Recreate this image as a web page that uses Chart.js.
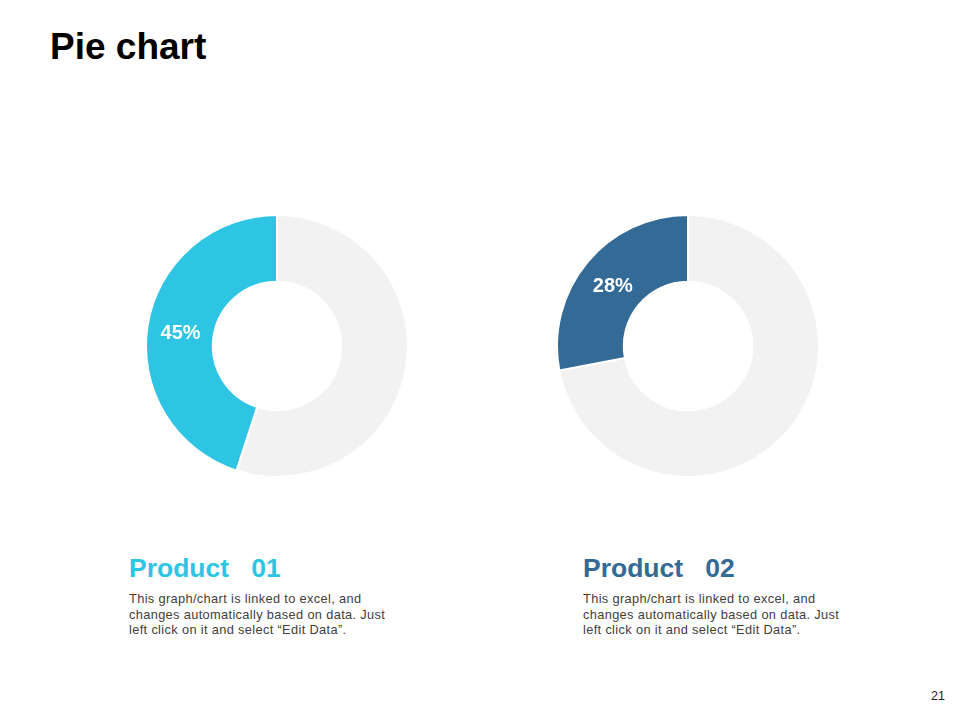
<!DOCTYPE html>
<html>
<head>
<meta charset="utf-8">
<script src="https://cdn.jsdelivr.net/npm/chart.js@4.4.1/dist/chart.umd.min.js"></script>
<style>
  body { margin: 0; background: #fff; font-family: "Liberation Sans", Arial, sans-serif; }
  #page { position: relative; width: 960px; height: 720px; overflow: hidden; }
  h1 { position: absolute; left: 50px; top: 26px; margin: 0; font-size: 37px; font-weight: bold; color: #000; }
  .box { position: absolute; width: 264px; height: 264px; }
  .name { position: absolute; margin: 0; font-size: 26.5px; font-weight: bold; white-space: pre; }
  .desc { position: absolute; margin: 0; font-size: 12.8px; letter-spacing: 0.35px; line-height: 15.5px; color: #404040; white-space: nowrap; }
  #num { position: absolute; left: 931px; top: 689px; font-size: 12.5px; color: #222; }
</style>
</head>
<body>
<div id="page">
  <h1>Pie chart</h1>
  <div class="box" style="left:145px; top:214px;"><canvas id="pie1" width="264" height="264"></canvas></div>
  <div class="box" style="left:556px; top:214px;"><canvas id="pie2" width="264" height="264"></canvas></div>
  <p class="name" id="name1" style="left:129px; top:553px;"></p>
  <p class="desc" id="desc1" style="left:129px; top:591px;"></p>
  <p class="name" id="name2" style="left:583px; top:553px;"></p>
  <p class="desc" id="desc2" style="left:583px; top:591px;"></p>
  <div id="num">21</div>
</div>
<script>
// data for the two product donuts (share shown, rest is grey)
var productNames = ['Product   01', 'Product   02'];
var productShares = [45, 28];
var productColors = ['#2ec4e3', '#336a96'];
var restColor = '#f2f2f2';
var descLines = [
    'This graph/chart is linked to excel, and',
    'changes automatically based on data. Just',
    'left click on it and select \u201cEdit Data\u201d.'
];

// draw the percent label in the middle of the coloured slice
var sliceLabel = {
    id: 'sliceLabel',
    afterDatasetsDraw: function(chart) {
        var ctx = chart.ctx;
        var arc = chart.getDatasetMeta(0).data[1];
        var pos = arc.tooltipPosition();
        ctx.save();
        ctx.fillStyle = '#fff';
        ctx.font = 'bold 20px "Liberation Sans", Arial, sans-serif';
        ctx.textAlign = 'center';
        ctx.textBaseline = 'middle';
        ctx.fillText(chart.data.datasets[0].data[1] + '%', pos.x, pos.y + 3);
        ctx.restore();
    }
};

function makeDonut(id, share, color) {
    var ctx = document.getElementById(id).getContext('2d');
    return new Chart(ctx, {
        type: 'doughnut',
        data: {
            labels: ['Rest', 'Share'],
            datasets: [{
                data: [100 - share, share],
                backgroundColor: [restColor, color],
                borderColor: '#fff',
                borderWidth: 2
            }]
        },
        options: {
            responsive: false,
            animation: false,
            cutout: '49%',
            plugins: {
                legend: { display: false },
                tooltip: { enabled: false }
            }
        },
        plugins: [sliceLabel]
    });
}

var chart1 = makeDonut('pie1', productShares[0], productColors[0]);
var chart2 = makeDonut('pie2', productShares[1], productColors[1]);

for (var i = 0; i < productNames.length; i++) {
    var n = document.getElementById('name' + (i + 1));
    n.textContent = productNames[i];
    n.style.color = productColors[i];
    document.getElementById('desc' + (i + 1)).innerHTML = descLines.join('<br>');
}
</script>
</body>
</html>
